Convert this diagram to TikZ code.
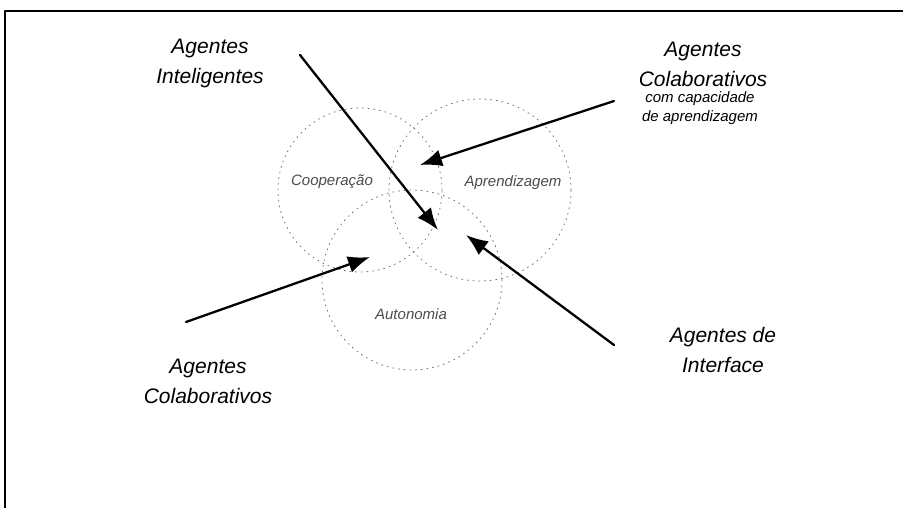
\documentclass[tikz,border=0pt]{standalone}
\usepackage{fontspec}
\setmainfont{Liberation Sans}
\usetikzlibrary{arrows.meta,positioning}
\begin{document}
\begin{tikzpicture}[x=1pt,y=-1pt,>={Latex[length=22pt,width=17pt]},line join=round,line cap=round,
	rotulo/.style={align=center,inner sep=0pt,font=\fontsize{21}{30}\selectfont\itshape},
	subrotulo/.style={align=center,inner sep=0pt,font=\fontsize{15}{19}\selectfont\itshape},
	rotconj/.style={inner sep=0pt,text=black!70,font=\fontsize{15}{18}\selectfont\itshape},
	conjunto/.style={black!55,line width=0.8pt,dash pattern=on 1.2pt off 4.5pt},
	seta/.style={->,line width=2.3pt}]
		\useasboundingbox (0,0) rectangle (903,508);
		\draw[line width=1.5pt] (5,508)--(5,11)--(903,11);
		% os tres conjuntos
		\draw[conjunto] (360,190) circle[radius=82pt];
		\draw[conjunto] (480,190) circle[radius=91pt];
		\draw[conjunto] (412,280) circle[radius=90pt];
		\node[rotconj] (coop) at (332,182) {Cooperação};
		\node[rotconj] (apren) at (513,183) {Aprendizagem};
		\node[rotconj] (auto) at (411,314) {Autonomia};
		% rotulos
		\node[rotulo] (intel) at (210,63) {Agentes\\Inteligentes};
		\node[rotulo] (colab) at (703,64) {Agentes\\Colaborativos};
		\node[subrotulo,below=5pt of colab,xshift=-3pt] (capac) {com capacidade\\de aprendizagem};
		\node[rotulo] (colabb) at (208,381) {Agentes\\Colaborativos};
		\node[rotulo] (inter) at (723,350) {Agentes de\\Interface};
		% setas
		\coordinate (intIni) at (300,55);
		\coordinate (intFim) at (438,230);
		\coordinate (capIni) at (614,101);
		\coordinate (capFim) at (420,165);
		\coordinate (intfIni) at (614,345);
		\coordinate (intfFim) at (466,235);
		\coordinate (colIni) at (186,322);
		\coordinate (colFim) at (370,257);
		\draw[seta] (intIni)--(intFim);
		\draw[seta] (capIni)--(capFim);
		\draw[seta] (intfIni)--(intfFim);
		\draw[seta] (colIni)--(colFim);
		\end{tikzpicture}
\end{document}
